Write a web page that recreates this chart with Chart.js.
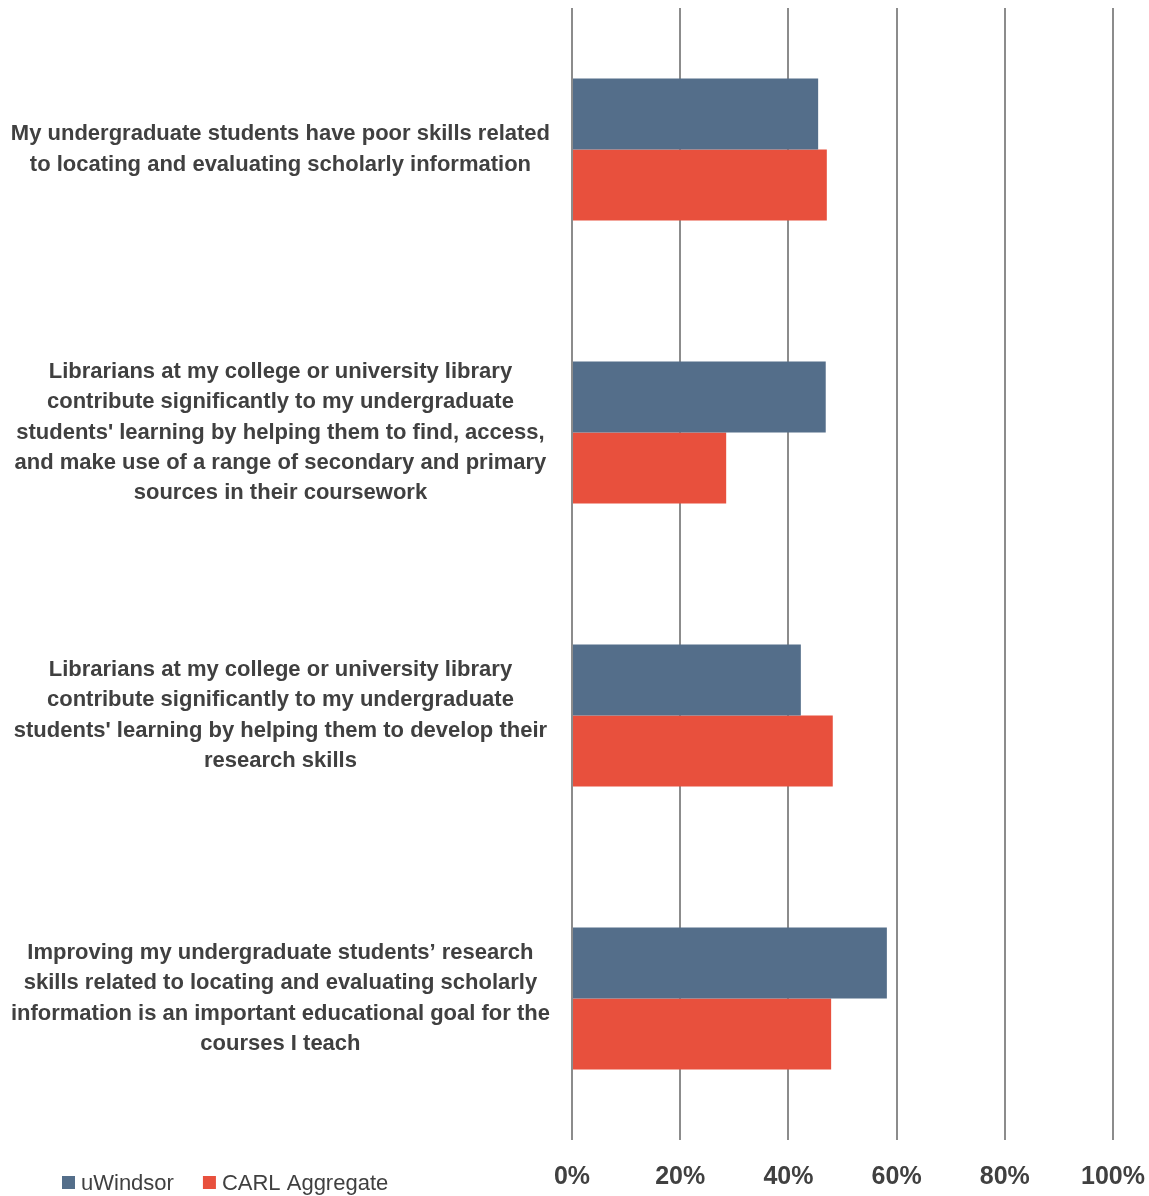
<!DOCTYPE html>
<html>
<head>
<meta charset="utf-8">
<script src="https://cdn.jsdelivr.net/npm/chart.js@4"></script>
<style>
  html, body { margin: 0; padding: 0; background: #fff; }
  #wrap { width: 1149px; height: 1196px; }
</style>
</head>
<body>
<div id="wrap"><canvas id="chart"></canvas></div>
<script>
const FONT = "'Liberation Sans Narrow', 'Arial Narrow', 'Liberation Sans', Arial, sans-serif";

const categories = [
  ['My undergraduate students have poor skills related', 'to locating and evaluating scholarly information'],
  ['Librarians at my college or university library', 'contribute significantly to my undergraduate',
   "students' learning by helping them to find, access,", 'and make use of a range of secondary and primary',
   'sources in their coursework'],
  ['Librarians at my college or university library', 'contribute significantly to my undergraduate',
   "students' learning by helping them to develop their", 'research skills'],
  ['Improving my undergraduate students\u2019 research', 'skills related to locating and evaluating scholarly',
   'information is an important educational goal for the', 'courses I teach']
];
const uWindsor = [45.5, 46.9, 42.3, 58.2];
const carlAggregate = [47.1, 28.5, 48.2, 47.9];
const xTicks = [0, 20, 40, 60, 80, 100];

// legend drawn at bottom-left, level with the x tick labels
const bottomLegend = {
  id: 'bottomLegend',
  afterDraw(chart) {
    const c = chart.ctx;
    let x = 62;
    const y = 1183;
    c.save();
    c.font = '22px ' + FONT;
    c.textBaseline = 'middle';
    chart.data.datasets.forEach(ds => {
      c.fillStyle = ds.backgroundColor;
      c.fillRect(x, y - 7, 13, 13);
      c.fillStyle = '#404040';
      c.fillText(ds.label, x + 19, y + 1);
      x += 19 + c.measureText(ds.label).width + 29;
    });
    c.restore();
  }
};

const ctx = document.getElementById('chart').getContext('2d');
new Chart(ctx, {
  type: 'bar',
  data: {
    labels: categories,
    datasets: [
      { label: 'uWindsor', data: uWindsor, backgroundColor: '#546E8A' },
      { label: 'CARL Aggregate', data: carlAggregate, backgroundColor: '#E8503D' }
    ]
  },
  options: {
    indexAxis: 'y',
    responsive: true,
    maintainAspectRatio: false,
    animation: false,
    categoryPercentage: 0.502,
    barPercentage: 1.0,
    layout: { padding: { left: 0, right: 36, top: 8, bottom: 4 } },
    plugins: {
      legend: { display: false },
      tooltip: { enabled: false }
    },
    scales: {
      x: {
        min: 0,
        max: 100,
        afterBuildTicks: scale => { scale.ticks = xTicks.map(v => ({ value: v })); },
        afterFit: scale => {
          scale.height = 52;   // chart.js counts tick padding twice
          scale.paddingLeft = 0;
          scale.paddingRight = 0;
        },
        ticks: {
          callback: v => v + '%',
          color: '#404040',
          padding: 22,
          font: { size: 25, weight: 'bold', family: FONT }
        },
        grid: { color: '#8c8c8c', lineWidth: 2, drawTicks: false },
        border: { display: false }
      },
      y: {
        afterFit: scale => {
          scale.width = 572;
          scale.paddingTop = 0;
          scale.paddingBottom = 0;
        },
        ticks: {
          crossAlign: 'center',
          padding: 14,
          color: '#404040',
          font: { size: 22, weight: 'bold', family: FONT, lineHeight: 1.38 }
        },
        grid: { display: false },
        border: { display: false }
      }
    }
  },
  plugins: [bottomLegend]
});
</script>
</body>
</html>
